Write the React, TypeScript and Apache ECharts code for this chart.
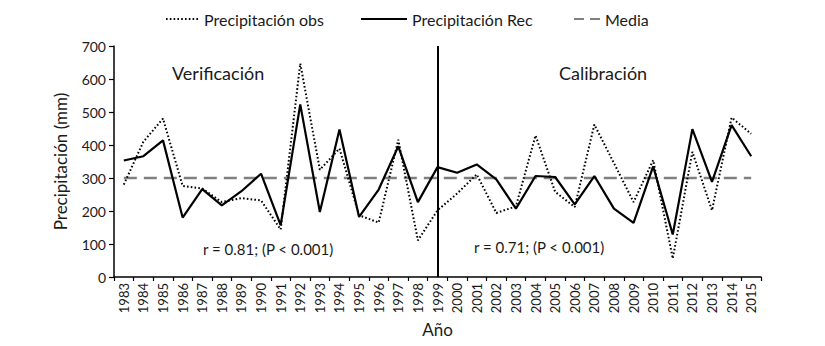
import React, { useEffect, useRef } from "react";
import * as echarts from "echarts";

const years = ["1983","1984","1985","1986","1987","1988","1989","1990","1991","1992","1993","1994","1995","1996","1997","1998","1999","2000","2001","2002","2003","2004","2005","2006","2007","2008","2009","2010","2011","2012","2013","2014","2015"];
const precipObs = [280,410,480,276,268,227,239,232,144,647,325,389,187,165,416,111,202,253,311,194,214,429,258,212,462,345,227,354,56,379,202,483,434];
const precipRec = [353,366,414,180,266,217,260,313,157,523,197,447,182,265,396,227,333,316,341,296,207,306,303,220,306,207,164,335,129,448,288,460,366];
const mediaValue = 300;
const mediaSeries = years.map(() => mediaValue);
const splitYear = "1999";
const yTicks = { min: 0, max: 700, interval: 100 };

const FONT = "Lato, 'Noto Sans', sans-serif";

export default function App() {
  const ref = useRef<HTMLDivElement>(null);
  useEffect(() => {
    if (!ref.current) return;
    const chart = echarts.init(ref.current, undefined, { renderer: "svg" });
    const legendText = { fontFamily: FONT, fontSize: 16, color: "#1a1a1a" };
    const legendBase = { top: 6, itemHeight: 10, itemGap: 4, textStyle: legendText, selectedMode: false, itemStyle: { opacity: 0 } };
    chart.setOption({
      animation: false,
      backgroundColor: "#ffffff",
      textStyle: { fontFamily: FONT },
      grid: { left: 114, right: 64, top: 46, bottom: 69 },
      legend: [
        { ...legendBase, data: ["Precipitación obs"], left: 160, itemWidth: 33 },
        { ...legendBase, data: ["Precipitación Rec"], left: 355, itemWidth: 46 },
        { ...legendBase, data: ["Media"], left: 568, itemWidth: 26, lineStyle: { type: [10, 6] } },
      ],
      xAxis: {
        type: "category",
        data: years,
        boundaryGap: true,
        name: "Año",
        nameLocation: "middle",
        nameGap: 44,
        nameTextStyle: { fontFamily: FONT, fontSize: 17, color: "#1a1a1a" },
        axisLine: { lineStyle: { color: "#000", width: 1.5 } },
        axisTick: { show: true, length: 4, lineStyle: { color: "#000", width: 1.2 } },
        axisLabel: { rotate: 90, fontSize: 13, color: "#1a1a1a", fontFamily: FONT, margin: 6, interval: 0 },
        splitLine: { show: false },
      },
      yAxis: {
        type: "value",
        min: yTicks.min,
        max: yTicks.max,
        interval: yTicks.interval,
        name: "Precipitación (mm)",
        nameLocation: "middle",
        nameGap: 45,
        nameTextStyle: { fontFamily: FONT, fontSize: 17, color: "#1a1a1a" },
        axisLine: { show: true, lineStyle: { color: "#000", width: 1.5 } },
        axisTick: { show: true, length: 5, lineStyle: { color: "#000", width: 1.2 } },
        axisLabel: { fontSize: 14, color: "#1a1a1a", fontFamily: FONT, margin: 8 },
        splitLine: { show: false },
      },
      series: [
        {
          name: "Precipitación obs",
          type: "line",
          data: precipObs,
          symbol: "none",
          color: "#000",
          lineStyle: { color: "#000", width: 2, type: [1.6, 2.2] },
          z: 3,
        },
        {
          name: "Precipitación Rec",
          type: "line",
          data: precipRec,
          symbol: "none",
          color: "#000",
          lineStyle: { color: "#000", width: 2.2, type: "solid" },
          z: 4,
          markLine: {
            silent: true,
            symbol: "none",
            label: { show: false },
            lineStyle: { color: "#000", width: 2, type: "solid" },
            data: [{ xAxis: splitYear }],
          },
        },
        {
          name: "Media",
          type: "line",
          data: mediaSeries,
          symbol: "none",
          color: "#808080",
          lineStyle: { color: "#808080", width: 2.5, type: [13, 7] },
          z: 2,
        },
      ],
      graphic: [
        { type: "text", left: 172, top: 64, style: { text: "Verificación", fontFamily: FONT, fontSize: 18, fill: "#1a1a1a" } },
        { type: "text", left: 559, top: 64, style: { text: "Calibración", fontFamily: FONT, fontSize: 18, fill: "#1a1a1a" } },
        { type: "text", left: 203, top: 241, style: { text: "r = 0.81; (P < 0.001)", fontFamily: FONT, fontSize: 15, fill: "#1a1a1a" } },
        { type: "text", left: 474, top: 239, style: { text: "r = 0.71; (P < 0.001)", fontFamily: FONT, fontSize: 15, fill: "#1a1a1a" } },
      ],
    });
    return () => chart.dispose();
  }, []);
  return <div ref={ref} style={{ width: 825, height: 346, position: "absolute", left: 0, top: 0 }} />;
}
